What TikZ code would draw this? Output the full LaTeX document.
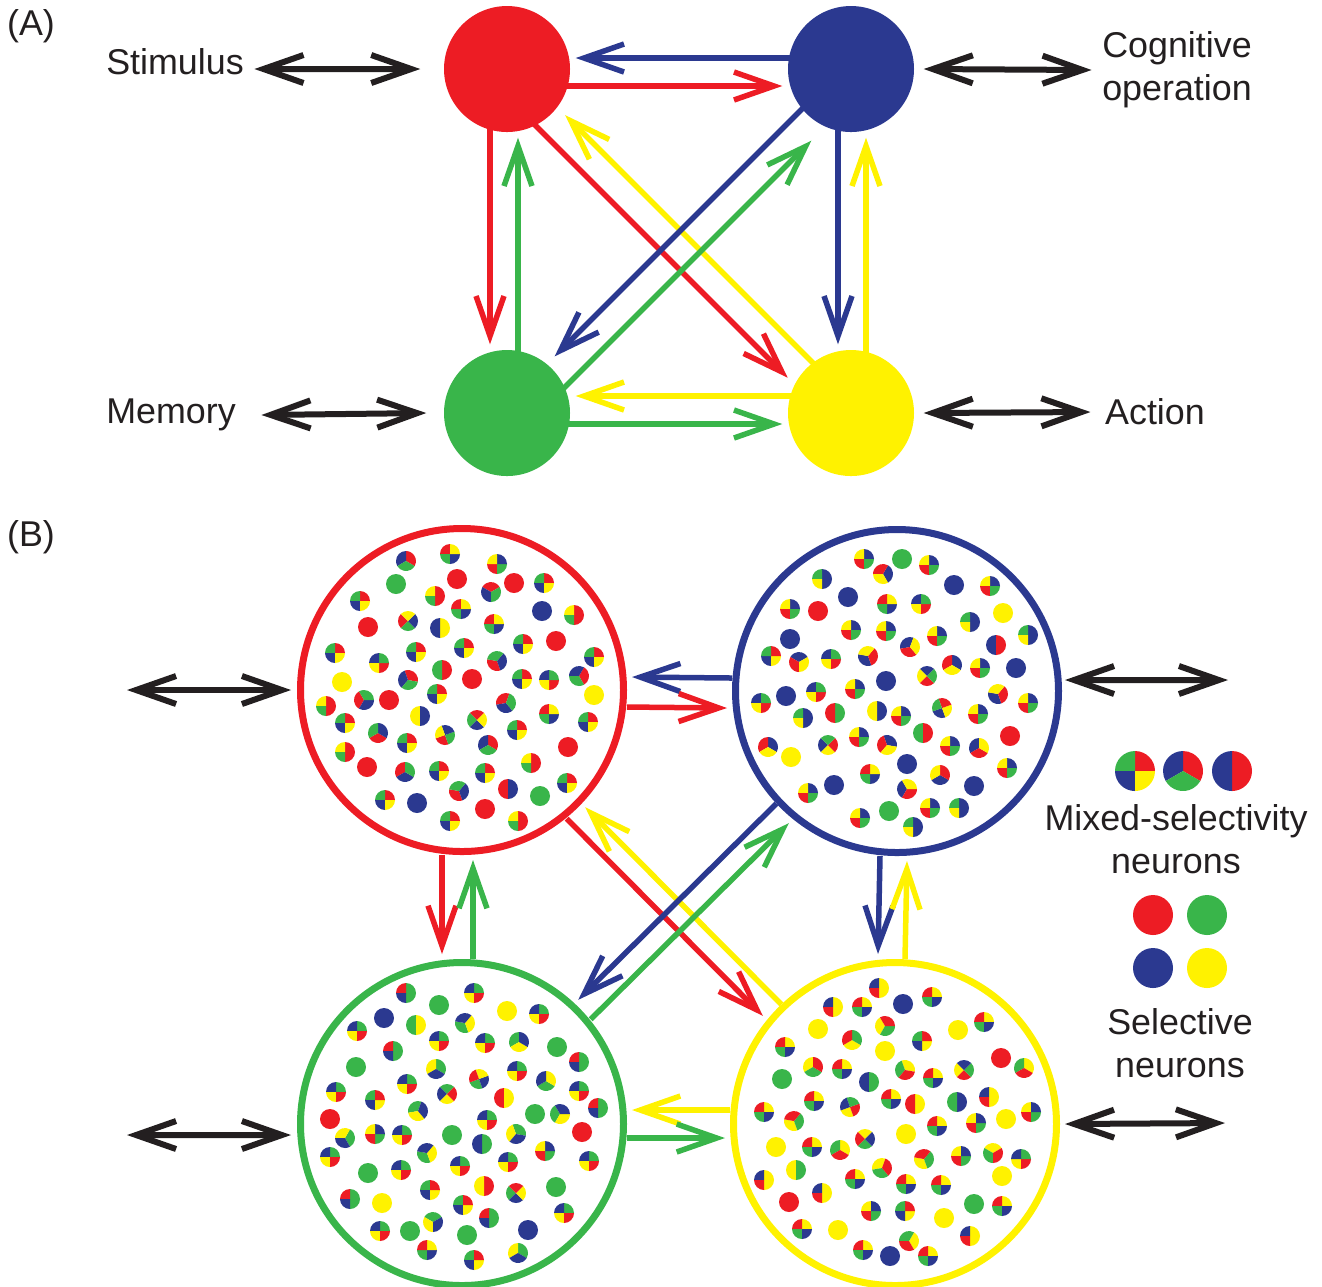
\documentclass[tikz,border=0pt]{standalone}
\usepackage{fontspec}
\setmainfont{Liberation Sans}
\usepackage{tikz}
\usetikzlibrary{arrows.meta}

\definecolor{cred}{HTML}{ED1C24}
\definecolor{cblue}{HTML}{2B3990}
\definecolor{cgreen}{HTML}{39B54A}
\definecolor{cyellow}{HTML}{FFF200}
\definecolor{cblack}{HTML}{231F20}
\colorlet{ca}{cred}
\colorlet{cb}{cgreen}
\colorlet{cc}{cblue}
\colorlet{cd}{cyellow}

\newcommand{\dotr}{0.1}
\newcommand{\nsector}[3]{\fill[#1] (0,0) -- (#2:\dotr) arc[start angle=#2,end angle=#3,radius=\dotr] -- cycle;}
\tikzset{
  pics/own/.style={code={\fill[ca] (0,0) circle (\dotr);}},
  pics/oa/.style={code={\fill[cb] (0,0) circle (\dotr);}},
  pics/ob/.style={code={\fill[cc] (0,0) circle (\dotr);}},
  pics/oc/.style={code={\fill[cd] (0,0) circle (\dotr);}},
  pics/quad/.style={code={\nsector{ca}{0}{90}\nsector{cb}{90}{180}\nsector{cc}{180}{270}\nsector{cd}{270}{360}}},
  pics/tri/.style={code={\nsector{ca}{-30}{90}\nsector{cc}{90}{210}\nsector{cb}{210}{330}}},
  pics/tri2/.style={code={\nsector{ca}{-90}{90}\nsector{cd}{90}{180}\nsector{cb}{180}{270}}},
  pics/half/.style={code={\nsector{ca}{-90}{90}\nsector{cc}{90}{270}}},
  pics/halfb/.style={code={\nsector{cd}{-90}{90}\nsector{cc}{90}{270}}},
  pics/halfc/.style={code={\nsector{ca}{-90}{90}\nsector{cb}{90}{270}}},
}

\newcommand{\cellpattern}{%
-0.56/1.29/tri/0, -0.12/1.36/quad/90, 0.35/1.26/quad/180, -0.66/1.06/oa/0,
-0.05/1.11/own/0, -0.27/0.94/tri2/0, 0.52/1.07/own/0, 0.82/1.07/quad/0,
-1.02/0.89/quad/0, -0.01/0.81/quad/90, 0.29/0.98/tri/60, 0.80/0.79/ob/0,
1.12/0.75/tri2/0, -0.94/0.63/own/0, -0.54/0.69/quad/135, -0.22/0.62/halfb/0,
0.32/0.66/quad/90, 0.94/0.49/own/0, -1.27/0.37/quad/0, -0.83/0.27/quad/270,
-0.46/0.38/quad/0, 0.02/0.42/quad/0, 0.35/0.29/tri/200, 0.61/0.46/quad/0,
1.32/0.33/quad/0, -1.20/0.08/oc/0, -0.54/0.10/tri/20, -0.20/0.20/halfc/0,
0.10/0.11/own/0, 0.60/0.11/quad/0, 0.87/0.10/quad/270, 1.17/0.14/tri/330,
-1.36/-0.16/tri2/0, -0.98/-0.10/tri/150, -0.73/-0.10/own/0, -0.25/-0.04/quad/0,
0.44/-0.13/tri/100, 1.32/-0.05/oc/0, -1.17/-0.33/quad/0, -0.42/-0.26/halfb/180,
0.15/-0.30/quad/45, 0.87/-0.24/quad/90, 1.26/-0.32/quad/0, -0.84/-0.43/tri/240,
-0.17/-0.45/quad/200, 0.55/-0.40/quad/0, -1.17/-0.62/tri2/0, -0.55/-0.53/quad/0,
0.26/-0.55/tri/0, 1.06/-0.57/own/0, -0.95/-0.77/own/0, -0.57/-0.82/tri/120,
-0.23/-0.81/quad/0, 0.23/-0.83/quad/0, 0.69/-0.73/tri2/0, -0.03/-1.01/tri/200,
0.46/-0.99/half/180, 0.78/-1.06/oa/0, 1.05/-0.93/quad/0, -0.77/-1.10/quad/0,
-0.45/-1.13/ob/0, 0.23/-1.19/own/0, -0.12/-1.31/quad/0, 0.56/-1.31/tri2/0}

\begin{document}
\begin{tikzpicture}[
  unit/.style={circle,minimum size=1.26cm,inner sep=0pt},
  cell/.style={circle,minimum size=3.23cm,inner sep=0pt,line width=0.7mm,fill=white},
  lbl/.style={font=\fontsize{10.2}{12.2}\selectfont,text=cblack,inner sep=0pt},
  link/.style={line width=0.55mm,-{Straight Barb[length=4mm,width=2.8mm]}},
  biarrow/.style={line width=0.6mm,cblack,{Straight Barb[length=4mm,width=2.8mm]}-{Straight Barb[length=4mm,width=2.8mm]}}]
\useasboundingbox (0,0) rectangle (13.22,-12.86);

\node[lbl] (panA) at (0.31,-0.26) {(A)};
\node[unit,fill=cred] (S) at (5.07,-0.69) {};
\node[unit,fill=cblue] (C) at (8.51,-0.69) {};
\node[unit,fill=cgreen] (M) at (5.07,-4.13) {};
\node[unit,fill=cyellow] (A) at (8.51,-4.13) {};
\node[lbl] (stim) at (1.75,-0.62) {Stimulus};
\node[lbl,align=center] (cog) at (11.77,-0.70) {Cognitive\\operation};
\node[lbl] (mem) at (1.71,-4.15) {Memory};
\node[lbl] (act) at (11.55,-4.12) {Action};

\draw[biarrow] ([shift={(1mm,-0.7mm)}]stim.east) -- ([xshift=-2.3mm]S.west);
\draw[biarrow] ([xshift=0.9mm]C.east) -- ([xshift=-1mm]cog.west);
\draw[biarrow] ([xshift=2.5mm]mem.east) -- ([xshift=-1.7mm]M.west);
\draw[biarrow] ([xshift=0.9mm]A.east) -- ([xshift=-1.4mm]act.west);

\draw[link,cblue] ([yshift=1.1mm]C.center) -- ([yshift=1.1mm,xshift=0.5mm]S.east);
\draw[link,cred] ([yshift=-1.7mm]S.center) -- ([yshift=-1.7mm,xshift=-0.5mm]C.west);
\draw[link,cred] ([xshift=-1.7mm]S.center) -- ([xshift=-1.7mm,yshift=0.5mm]M.north);
\draw[link,cgreen] ([xshift=1.1mm]M.center) -- ([xshift=1.1mm,yshift=-0.5mm]S.south);
\draw[link,cblue] ([xshift=-1.3mm]C.center) -- ([xshift=-1.3mm,yshift=0.5mm]A.north);
\draw[link,cyellow] ([xshift=1.5mm]A.center) -- ([xshift=1.5mm,yshift=-0.5mm]C.south);
\draw[link,cyellow] ([yshift=1.7mm]A.center) -- ([yshift=1.7mm,xshift=0.5mm]M.east);
\draw[link,cgreen] ([yshift=-1.1mm]M.center) -- ([yshift=-1.1mm,xshift=-0.5mm]A.west);
\draw[link,cred,shorten >=0.6mm] ([shift={(-0.14,-0.14)}]S.center) -- ([shift={(-0.14,-0.14)}]A.135);
\draw[link,cyellow,shorten >=1mm] ([shift={(0.06,0.06)}]A.center) -- ([shift={(0.06,0.06)}]S.-45);
\draw[link,cblue,shorten >=1mm] ([shift={(-0.045,0.045)}]C.center) -- ([shift={(-0.045,0.045)}]M.45);
\draw[link,cgreen,shorten >=1.5mm] ([shift={(0.16,-0.16)}]M.center) -- ([shift={(0.16,-0.16)}]C.-135);

\node[lbl] (panB) at (0.31,-5.37) {(B)};
\node[cell,draw=cred] (R) at (4.62,-6.90) {};
\node[cell,draw=cblue] (B) at (8.97,-6.91) {};
\node[cell,draw=cgreen] (G) at (4.62,-11.24) {};
\node[cell,draw=cyellow] (Y) at (8.95,-11.24) {};

\begin{scope}[shift={(R.center)}]
  \colorlet{ca}{cred}\colorlet{cb}{cgreen}\colorlet{cc}{cblue}\colorlet{cd}{cyellow}
  \foreach \x/\y/\k/\r in \cellpattern {\pic[rotate=\r] at (\x,\y) {\k};}
\end{scope}
\begin{scope}[shift={(B.center)},rotate=90]
  \colorlet{ca}{cblue}\colorlet{cb}{cyellow}\colorlet{cc}{cred}\colorlet{cd}{cgreen}
  \foreach \x/\y/\k/\r in \cellpattern {\pic[rotate=\r] at (\x,\y) {\k};}
\end{scope}
\begin{scope}[shift={(G.center)},rotate=180]
  \colorlet{ca}{cgreen}\colorlet{cb}{cblue}\colorlet{cc}{cyellow}\colorlet{cd}{cred}
  \foreach \x/\y/\k/\r in \cellpattern {\pic[rotate=\r] at (\x,\y) {\k};}
\end{scope}
\begin{scope}[shift={(Y.center)},rotate=270]
  \colorlet{ca}{cyellow}\colorlet{cb}{cred}\colorlet{cc}{cgreen}\colorlet{cd}{cblue}
  \foreach \x/\y/\k/\r in \cellpattern {\pic[rotate=\r] at (\x,\y) {\k};}
\end{scope}

\coordinate (inR) at (1.27,-6.90);
\coordinate (outB) at (12.28,-6.80);
\coordinate (inG) at (1.27,-11.35);
\coordinate (outY) at (12.25,-11.23);
\draw[biarrow] (inR) -- ([xshift=-0.6mm]R.west);
\draw[biarrow] ([shift={(0.3mm,1.1mm)}]B.east) -- (outB);
\draw[biarrow] (inG) -- ([shift={(-0.6mm,-1.1mm)}]G.west);
\draw[biarrow] ([xshift=0.5mm]Y.east) -- (outY);

\draw[link,cblue] ([yshift=1.3mm]B.west) -- ([yshift=1.3mm,xshift=0.5mm]R.east);
\draw[link,cred] ([yshift=-1.7mm]R.east) -- ([yshift=-1.7mm,xshift=-0.5mm]B.west);
\draw[link,cred] ([xshift=-2mm]R.south) -- ([xshift=-2mm,yshift=0.5mm]G.north);
\draw[link,cgreen] ([xshift=1.1mm]G.north) -- ([xshift=1.1mm,yshift=-0.5mm]R.south);
\draw[link,cblue] ([xshift=-1.7mm]B.south) -- ([xshift=-1.7mm,yshift=0.5mm]Y.north);
\draw[link,cyellow] ([xshift=1mm]Y.north) -- ([xshift=1mm,yshift=-0.5mm]B.south);
\draw[link,cyellow] ([yshift=1.4mm]Y.west) -- ([yshift=1.4mm,xshift=0.5mm]G.east);
\draw[link,cgreen] ([yshift=-1.4mm]G.east) -- ([yshift=-1.4mm,xshift=-0.5mm]Y.west);
\draw[link,cred,shorten >=0.5mm] ([shift={(-0.12,-0.12)}]R.-45) -- ([shift={(-0.12,-0.12)}]Y.135);
\draw[link,cyellow,shorten >=0.5mm] ([shift={(0.03,0.03)}]Y.135) -- ([shift={(0.03,0.03)}]R.-45);
\draw[link,cblue,shorten >=0.5mm] ([shift={(-0.04,0.04)}]B.-135) -- ([shift={(-0.04,0.04)}]G.45);
\draw[link,cgreen,shorten >=0.5mm] ([shift={(0.12,-0.12)}]G.45) -- ([shift={(0.12,-0.12)}]B.-135);

\begin{scope}
  \colorlet{ca}{cred}\colorlet{cb}{cgreen}\colorlet{cc}{cblue}\colorlet{cd}{cyellow}
  \pic[scale=2] at (11.35,-7.71) {quad};
  \pic[scale=2] at (11.83,-7.71) {tri};
  \pic[scale=2] at (12.32,-7.71) {half};
\end{scope}
\node[lbl,align=center] (mixlbl) at (11.76,-8.39) {Mixed-selectivity\\neurons};
\fill[cred] (11.53,-9.15) circle (0.2);
\fill[cgreen] (12.07,-9.15) circle (0.2);
\fill[cblue] (11.53,-9.68) circle (0.2);
\fill[cyellow] (12.07,-9.68) circle (0.2);
\node[lbl,align=center] (sellbl) at (11.80,-10.43) {Selective\\neurons};
\end{tikzpicture}
\end{document}
